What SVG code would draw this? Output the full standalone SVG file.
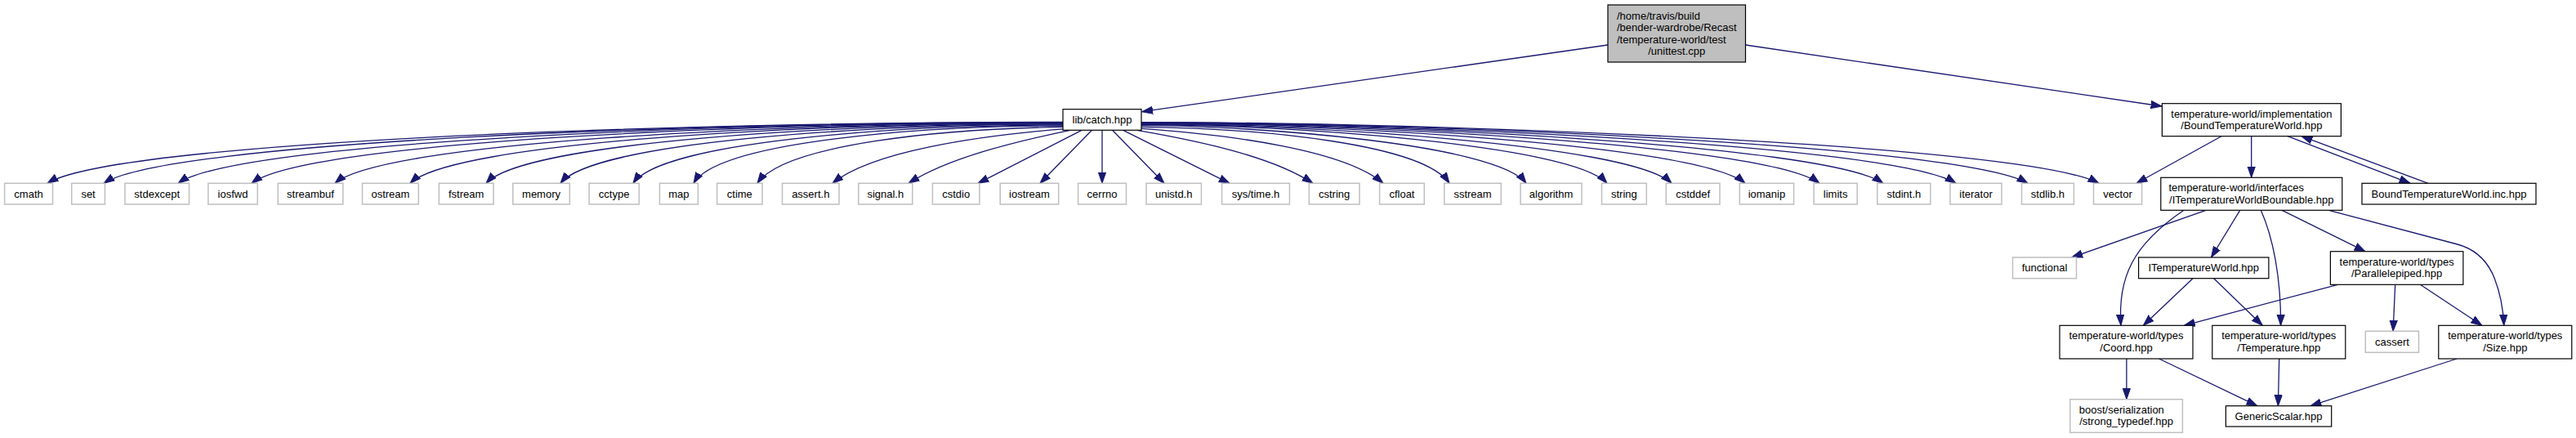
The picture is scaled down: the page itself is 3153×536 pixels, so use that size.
<svg xmlns="http://www.w3.org/2000/svg" width="3153" height="536" viewBox="0 0 3153 536">
<style>
text{font-family:"Liberation Sans",Arial,Helvetica,sans-serif;font-size:13px;fill:#000}
.m{text-anchor:middle}
.s{text-anchor:start}
.doc rect{fill:#fff;stroke:#000;stroke-width:1.2}
.root rect{fill:#bfbfbf;stroke:#000;stroke-width:1.2}
.ext rect{fill:#fff;stroke:#bfbfbf;stroke-width:1.5}
#edges path{fill:none;stroke:#191970;stroke-width:1.3;marker-end:url(#ah)}
</style>
<defs>
<marker id="ah" markerUnits="userSpaceOnUse" markerWidth="16" markerHeight="12" viewBox="0 -6 16 12" refX="13.3" refY="0" orient="auto">
<path d="M0,-4.6 L13.3,0 L0,4.6 z" fill="#191970" stroke="#191970" stroke-width="1"/>
</marker>
</defs>
<rect width="3153" height="536" fill="#fff"/>
<g id="edges">
<path d="M1968,55 L1397.7,136.7"/>
<path d="M2136.5,55 L2646,130"/>
<path d="M1301,149.4 C803.8,149.4 138.8,174.3 58,224.3"/>
<path d="M1301,149.6 C831.4,149.6 203.3,174.3 127,224.3"/>
<path d="M1301,149.8 C867.8,149.8 288.4,174.3 218,224.3"/>
<path d="M1301,150.1 C903.8,150.1 372.5,174.3 308,224.3"/>
<path d="M1301,150.5 C944.6,150.5 467.9,174.3 410,224.3"/>
<path d="M1301,150.9 C981.4,150.9 553.9,174.3 502,224.3"/>
<path d="M1301,151.5 C1018.6,151.5 640.9,174.3 595,224.3"/>
<path d="M1301,152.1 C1055,152.1 726,174.3 686,224.3"/>
<path d="M1301,153 C1090.6,153 809.2,174.3 775,224.3"/>
<path d="M1301,154 C1120.2,154 878.4,174.3 849,224.3"/>
<path d="M1301,155.4 C1153.6,157.4 960,176.6 927,224.3"/>
<path d="M1301,157.8 C1195.6,166.5 1067,185.2 1019,224.3"/>
<path d="M1310,159.3 C1239.7,173.9 1160.6,193.3 1112,224.3"/>
<path d="M1324,159.3 L1197,224.3"/>
<path d="M1336.5,159.3 L1273,224.3"/>
<path d="M1349,159.3 L1349,224.3"/>
<path d="M1361.5,159.3 L1425,224.3"/>
<path d="M1374.7,159.3 L1505,224.3"/>
<path d="M1391.4,159.3 C1468.8,172.6 1557.4,191.7 1607,224.3"/>
<path d="M1397,157.4 C1508.6,165.1 1646.2,183.9 1693,224.3"/>
<path d="M1397,155.3 C1545.9,157.1 1741.7,176.4 1774,224.3"/>
<path d="M1397,153.7 C1538.3,153.7 1832.2,176.3 1868,224.3"/>
<path d="M1397,152.5 C1568,152.5 1923.7,176.3 1967,224.3"/>
<path d="M1397,151.9 C1591.7,151.9 1996.7,176.3 2046,224.3"/>
<path d="M1397,151.3 C1618.7,151.3 2079.8,176.3 2136,224.3"/>
<path d="M1397,150.8 C1646,150.8 2163.9,176.3 2227,224.3"/>
<path d="M1397,150.4 C1669.4,150.4 2236,176.3 2305,224.3"/>
<path d="M1397,150.1 C1696.1,150.1 2318.2,176.3 2394,224.3"/>
<path d="M1397,149.8 C1722.5,149.8 2399.5,176.3 2482,224.3"/>
<path d="M1397,149.6 C1748.6,149.6 2480,176.3 2569,224.3"/>
<path d="M2719,166.7 L2615,224.3"/>
<path d="M2755.7,166.7 L2755.7,217.3"/>
<path d="M2800,166.7 L2950,224.3"/>
<path d="M2972,224.3 L2817,166.7"/>
<path d="M2700,257.3 L2535.7,315"/>
<path d="M2673,257.3 C2610,300 2592,340 2596,398.3"/>
<path d="M2741.7,257.3 L2706.5,315"/>
<path d="M2767.3,257.3 C2782,290 2792,340 2791.6,398.3"/>
<path d="M2793,257.3 L2895,307.7"/>
<path d="M2850.5,257.3 L3008,299 C3030,305 3045,320 3053,340 C3060,358 3064,378 3064.8,398.3"/>
<path d="M2684,340.7 L2623.4,398.3"/>
<path d="M2709.7,340.7 L2769.2,398.3"/>
<path d="M2861.3,348.3 L2673.3,398.3"/>
<path d="M2931.7,348.3 L2929.1,405.3"/>
<path d="M2962.4,348.3 L3037.9,398.3"/>
<path d="M2602.9,439 L2602.9,488.7"/>
<path d="M2642.6,439 L2762.8,496.7"/>
<path d="M2789.7,439 L2788.4,496.7"/>
<path d="M3007.2,439 L2828,496.7"/>
</g>
<g id="node-root" class="root"><rect x="1968" y="6" width="168.5" height="70"/>
<text class="s" x="1979" y="23.5">/home/travis/build</text>
<text class="s" x="1979" y="38">/bender-wardrobe/Recast</text>
<text class="s" x="1979" y="52.5">/temperature-world/test</text>
<text class="m" x="2052.25" y="67">/unittest.cpp</text></g>
<g id="node-catch" class="doc"><rect x="1301" y="133.7" width="96" height="25.6"/><text class="m" x="1349" y="150.8">lib/catch.hpp</text></g>
<g id="node-cmath" class="ext"><rect x="5.6" y="224.3" width="58.9" height="25.7"/><text class="m" x="35.05" y="241.65">cmath</text></g>
<g id="node-set" class="ext"><rect x="87.7" y="224.3" width="40.7" height="25.7"/><text class="m" x="108.05" y="241.65">set</text></g>
<g id="node-stdexcept" class="ext"><rect x="152.9" y="224.3" width="78.6" height="25.7"/><text class="m" x="192.2" y="241.65">stdexcept</text></g>
<g id="node-iosfwd" class="ext"><rect x="254.8" y="224.3" width="60.4" height="25.7"/><text class="m" x="285" y="241.65">iosfwd</text></g>
<g id="node-streambuf" class="ext"><rect x="340.2" y="224.3" width="79.6" height="25.7"/><text class="m" x="380" y="241.65">streambuf</text></g>
<g id="node-ostream" class="ext"><rect x="443.5" y="224.3" width="68.8" height="25.7"/><text class="m" x="477.9" y="241.65">ostream</text></g>
<g id="node-fstream" class="ext"><rect x="537.3" y="224.3" width="66.7" height="25.7"/><text class="m" x="570.65" y="241.65">fstream</text></g>
<g id="node-memory" class="ext"><rect x="627.8" y="224.3" width="69.5" height="25.7"/><text class="m" x="662.55" y="241.65">memory</text></g>
<g id="node-cctype" class="ext"><rect x="721.1" y="224.3" width="61.1" height="25.7"/><text class="m" x="751.65" y="241.65">cctype</text></g>
<g id="node-map" class="ext"><rect x="807.4" y="224.3" width="47" height="25.7"/><text class="m" x="830.9" y="241.65">map</text></g>
<g id="node-ctime" class="ext"><rect x="877.6" y="224.3" width="55.4" height="25.7"/><text class="m" x="905.3" y="241.65">ctime</text></g>
<g id="node-assert" class="ext"><rect x="957.5" y="224.3" width="69.5" height="25.7"/><text class="m" x="992.25" y="241.65">assert.h</text></g>
<g id="node-signal" class="ext"><rect x="1050.8" y="224.3" width="66" height="25.7"/><text class="m" x="1083.8" y="241.65">signal.h</text></g>
<g id="node-cstdio" class="ext"><rect x="1141.4" y="224.3" width="57.5" height="25.7"/><text class="m" x="1170.15" y="241.65">cstdio</text></g>
<g id="node-iostream" class="ext"><rect x="1224.2" y="224.3" width="71.5" height="25.7"/><text class="m" x="1259.95" y="241.65">iostream</text></g>
<g id="node-cerrno" class="ext"><rect x="1319.6" y="224.3" width="58.9" height="25.7"/><text class="m" x="1349.05" y="241.65">cerrno</text></g>
<g id="node-unistd" class="ext"><rect x="1403" y="224.3" width="67.4" height="25.7"/><text class="m" x="1436.7" y="241.65">unistd.h</text></g>
<g id="node-systime" class="ext"><rect x="1495.6" y="224.3" width="82.8" height="25.7"/><text class="m" x="1537" y="241.65">sys/time.h</text></g>
<g id="node-cstring" class="ext"><rect x="1602.3" y="224.3" width="61.7" height="25.7"/><text class="m" x="1633.15" y="241.65">cstring</text></g>
<g id="node-cfloat" class="ext"><rect x="1688.6" y="224.3" width="54.7" height="25.7"/><text class="m" x="1715.95" y="241.65">cfloat</text></g>
<g id="node-sstream" class="ext"><rect x="1767.8" y="224.3" width="69.5" height="25.7"/><text class="m" x="1802.55" y="241.65">sstream</text></g>
<g id="node-algorithm" class="ext"><rect x="1861.1" y="224.3" width="74.9" height="25.7"/><text class="m" x="1898.55" y="241.65">algorithm</text></g>
<g id="node-string" class="ext"><rect x="1960.5" y="224.3" width="54.8" height="25.7"/><text class="m" x="1987.9" y="241.65">string</text></g>
<g id="node-cstddef" class="ext"><rect x="2039.3" y="224.3" width="65.7" height="25.7"/><text class="m" x="2072.15" y="241.65">cstddef</text></g>
<g id="node-iomanip" class="ext"><rect x="2129.3" y="224.3" width="66.3" height="25.7"/><text class="m" x="2162.45" y="241.65">iomanip</text></g>
<g id="node-limits" class="ext"><rect x="2220.1" y="224.3" width="53.1" height="25.7"/><text class="m" x="2246.65" y="241.65">limits</text></g>
<g id="node-stdint" class="ext"><rect x="2297.8" y="224.3" width="65.1" height="25.7"/><text class="m" x="2330.35" y="241.65">stdint.h</text></g>
<g id="node-iterator" class="ext"><rect x="2387" y="224.3" width="63" height="25.7"/><text class="m" x="2418.5" y="241.65">iterator</text></g>
<g id="node-stdlib" class="ext"><rect x="2474.5" y="224.3" width="63.9" height="25.7"/><text class="m" x="2506.45" y="241.65">stdlib.h</text></g>
<g id="node-vector" class="ext"><rect x="2562.5" y="224.3" width="59.1" height="25.7"/><text class="m" x="2592.05" y="241.65">vector</text></g>
<g id="node-boundtw" class="doc"><rect x="2646.4" y="126.7" width="219" height="40"/>
<text class="m" x="2755.9" y="143.6">temperature-world/implementation</text>
<text class="m" x="2755.9" y="158">/BoundTemperatureWorld.hpp</text></g>
<g id="node-boundtwinc" class="doc"><rect x="2891" y="224.3" width="213" height="25.7"/><text class="m" x="2997.5" y="241.65">BoundTemperatureWorld.inc.hpp</text></g>
<g id="node-interfaces" class="doc"><rect x="2644.8" y="217.3" width="222" height="40"/>
<text class="s" x="2654.5" y="234.2">temperature-world/interfaces</text>
<text class="m" x="2755.8" y="248.6">/ITemperatureWorldBoundable.hpp</text></g>
<g id="node-functional" class="ext"><rect x="2463.5" y="315" width="78" height="25.7"/><text class="m" x="2502.5" y="332.35">functional</text></g>
<g id="node-itw" class="doc"><rect x="2617.6" y="315" width="159.3" height="25.7"/><text class="m" x="2697.25" y="332.35">ITemperatureWorld.hpp</text></g>
<g id="node-parallelepiped" class="doc"><rect x="2852.4" y="307.7" width="162.5" height="40.6"/>
<text class="m" x="2933.65" y="324.6">temperature-world/types</text>
<text class="m" x="2933.65" y="339">/Parallelepiped.hpp</text></g>
<g id="node-coord" class="doc"><rect x="2521" y="398.3" width="163" height="40.7"/>
<text class="m" x="2602.5" y="415.2">temperature-world/types</text>
<text class="m" x="2602.5" y="429.6">/Coord.hpp</text></g>
<g id="node-temperature" class="doc"><rect x="2707.8" y="398.3" width="163" height="40.7"/>
<text class="m" x="2789.3" y="415.2">temperature-world/types</text>
<text class="m" x="2789.3" y="429.6">/Temperature.hpp</text></g>
<g id="node-cassert" class="ext"><rect x="2895.3" y="405.3" width="65.2" height="26"/><text class="m" x="2927.9" y="422.8">cassert</text></g>
<g id="node-size" class="doc"><rect x="2984.8" y="398.3" width="163" height="40.7"/>
<text class="m" x="3066.3" y="415.2">temperature-world/types</text>
<text class="m" x="3066.3" y="429.6">/Size.hpp</text></g>
<g id="node-boost" class="ext"><rect x="2533.8" y="488.7" width="137.6" height="40.6"/>
<text class="s" x="2544.8" y="505.6">boost/serialization</text>
<text class="m" x="2602.6" y="520">/strong_typedef.hpp</text></g>
<g id="node-genericscalar" class="doc"><rect x="2724.4" y="496.7" width="129.3" height="25.3"/><text class="m" x="2789.05" y="513.85">GenericScalar.hpp</text></g>
</svg>
